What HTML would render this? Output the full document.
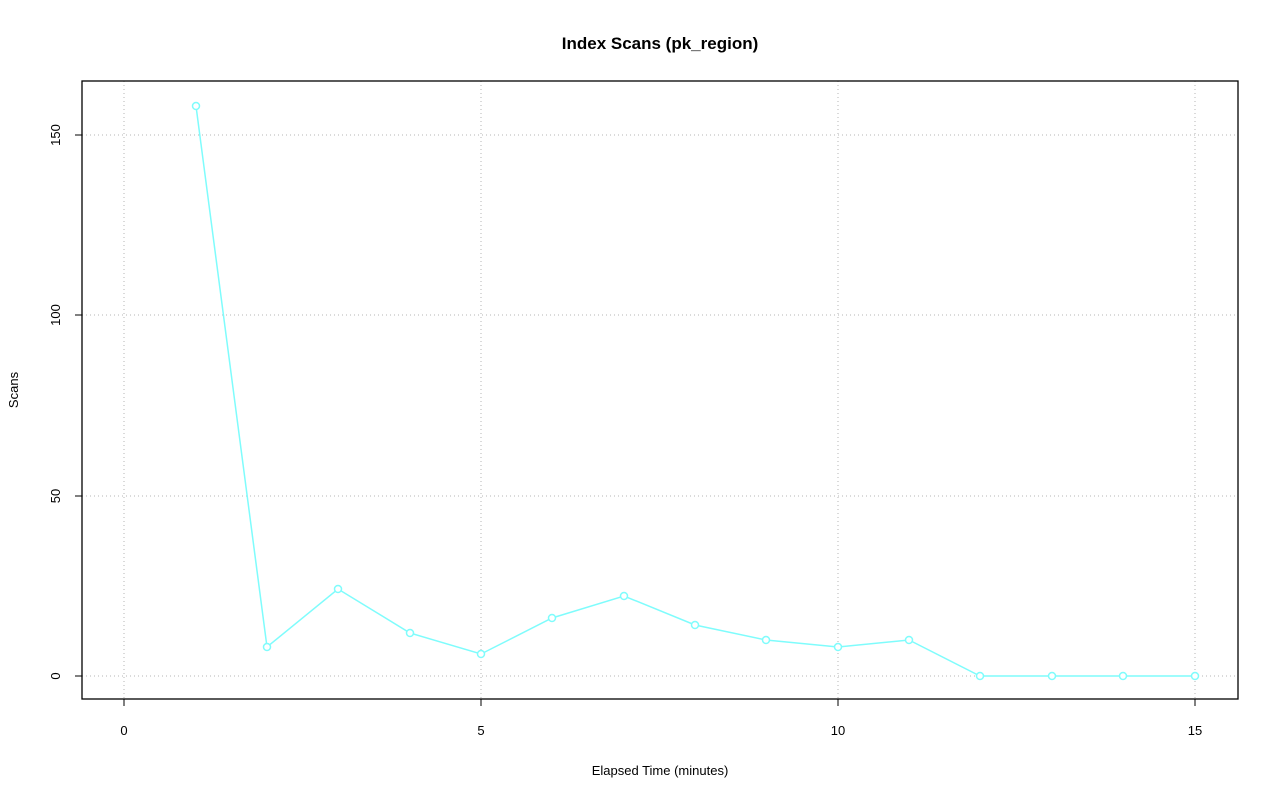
<!DOCTYPE html>
<html><head><style>body{margin:0;background:#fff}</style></head><body>
<svg width="1280" height="801" xmlns="http://www.w3.org/2000/svg" font-family="Liberation Sans, sans-serif">
<rect width="1280" height="801" fill="#fff"/>
<text x="660" y="49" text-anchor="middle" font-weight="bold" font-size="17">Index Scans (pk_region)</text>
<g stroke="#b4b4b4" stroke-dasharray="1,3" stroke-width="1">
<line x1="124" y1="81" x2="124" y2="699"/><line x1="481" y1="81" x2="481" y2="699"/>
<line x1="838" y1="81" x2="838" y2="699"/><line x1="1195" y1="81" x2="1195" y2="699"/>
<line x1="82" y1="676" x2="1238" y2="676"/><line x1="82" y1="496" x2="1238" y2="496"/>
<line x1="82" y1="315" x2="1238" y2="315"/><line x1="82" y1="135" x2="1238" y2="135"/>
</g>
<rect x="82" y="81" width="1156" height="618" fill="none" stroke="#000" stroke-width="1.3"/>
<g stroke="#000"><line x1="124" y1="699" x2="124" y2="706"/><line x1="481" y1="699" x2="481" y2="706"/><line x1="838" y1="699" x2="838" y2="706"/><line x1="1195" y1="699" x2="1195" y2="706"/>
<line x1="75" y1="676" x2="82" y2="676"/><line x1="75" y1="496" x2="82" y2="496"/><line x1="75" y1="315" x2="82" y2="315"/><line x1="75" y1="135" x2="82" y2="135"/></g>
<g font-size="13" text-anchor="middle"><text x="124" y="735">0</text><text x="481" y="735">5</text><text x="838" y="735">10</text><text x="1195" y="735">15</text>
<text transform="translate(60,676) rotate(-90)">0</text><text transform="translate(60,496) rotate(-90)">50</text><text transform="translate(60,315) rotate(-90)">100</text><text transform="translate(60,135) rotate(-90)">150</text>
<text x="660" y="775">Elapsed Time (minutes)</text><text transform="translate(18,390) rotate(-90)">Scans</text></g>
<g stroke="#7ffcfc" stroke-width="1.5" fill="none">
<polyline points="196,106 267,647 338,589 410,633 481,654 552,618 624,596 695,625 766,640 838,647 909,640 980,676 1052,676 1123,676 1195,676"/>
<g fill="#fff">
<circle cx="196" cy="106" r="3.5"/><circle cx="267" cy="647" r="3.5"/><circle cx="338" cy="589" r="3.5"/><circle cx="410" cy="633" r="3.5"/><circle cx="481" cy="654" r="3.5"/><circle cx="552" cy="618" r="3.5"/><circle cx="624" cy="596" r="3.5"/><circle cx="695" cy="625" r="3.5"/><circle cx="766" cy="640" r="3.5"/><circle cx="838" cy="647" r="3.5"/><circle cx="909" cy="640" r="3.5"/><circle cx="980" cy="676" r="3.5"/><circle cx="1052" cy="676" r="3.5"/><circle cx="1123" cy="676" r="3.5"/><circle cx="1195" cy="676" r="3.5"/>
</g></g>
</svg>
</body></html>
